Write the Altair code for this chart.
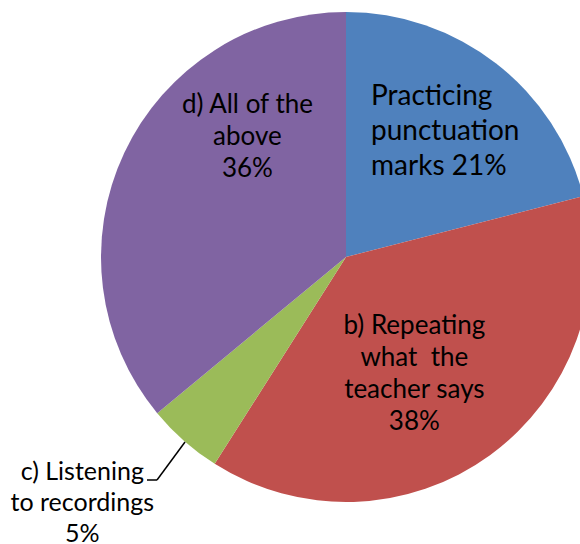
import altair as alt
import pandas as pd

categories = ["Practicing punctuation marks", "b) Repeating what the teacher says",
              "c) Listening to recordings", "d) All of the above"]
values = [21, 38, 5, 36]
labels = ["Practicing\npunctuation\nmarks 21%",
          "b) Repeating\nwhat \u00a0the\nteacher says\n38%",
          "c) Listening\nto recordings\n5%",
          "d) All of the\nabove\n36%"]
order = [0, 1, 2, 3]
colors = ["#4F81BD", "#C0504D", "#9BBB59", "#8064A2"]

df = pd.DataFrame({"category": categories, "value": values, "label": labels, "order": order})
total = sum(values)

CX, CY, R = 346, 257, 245
theta_scale = alt.Scale(domain=[0, total])

pie = alt.Chart(df).mark_arc(outerRadius=R).encode(
    theta=alt.Theta("value:Q", stack=True, scale=theta_scale),
    color=alt.Color("category:N", scale=alt.Scale(domain=categories, range=colors), legend=None),
    order=alt.Order("order:Q"),
    x=alt.value(CX), y=alt.value(CY),
)

base = alt.Chart(df).transform_window(
    cum="sum(value)", sort=[alt.SortField("order")]
).transform_calculate(mid="datum.cum - datum.value / 2")


def label_layer(cat, r, dx, dy, size, lh, align):
    return base.transform_filter(alt.datum.category == cat).mark_text(
        radius=r, dx=dx, dy=dy, fontSize=size, lineHeight=lh, align=align,
        baseline="middle", font="Lato", color="#000000", lineBreak="\n",
    ).encode(
        theta=alt.Theta("mid:Q", scale=theta_scale),
        text="label:N",
        x=alt.value(CX), y=alt.value(CY),
    )


lab_a = label_layer(categories[0], 160, -73, -34, 28, 35, "left")
lab_b = label_layer(categories[1], 135, -11, -40, 26, 32, "center")
lab_c = label_layer(categories[2], 358, -27, -54, 25, 31, "center")
lab_d = label_layer(categories[3], 141, 29, -92, 26, 32, "center")

one = pd.DataFrame({"k": [0]})
lead1 = alt.Chart(one).mark_rule(color="#000000", strokeWidth=1.5).encode(
    x=alt.value(147), x2=alt.value(157), y=alt.value(480), y2=alt.value(480))
lead2 = alt.Chart(one).mark_rule(color="#000000", strokeWidth=1.5).encode(
    x=alt.value(157), x2=alt.value(185), y=alt.value(480), y2=alt.value(442))

chart = alt.layer(pie, lab_a, lab_b, lab_c, lab_d, lead1, lead2).properties(
    width=580, height=544, padding=0, autosize=alt.AutoSizeParams(type="none")
).configure_view(stroke=None)

chart.save("out.html", embed_options={"renderer": "svg", "actions": False})
